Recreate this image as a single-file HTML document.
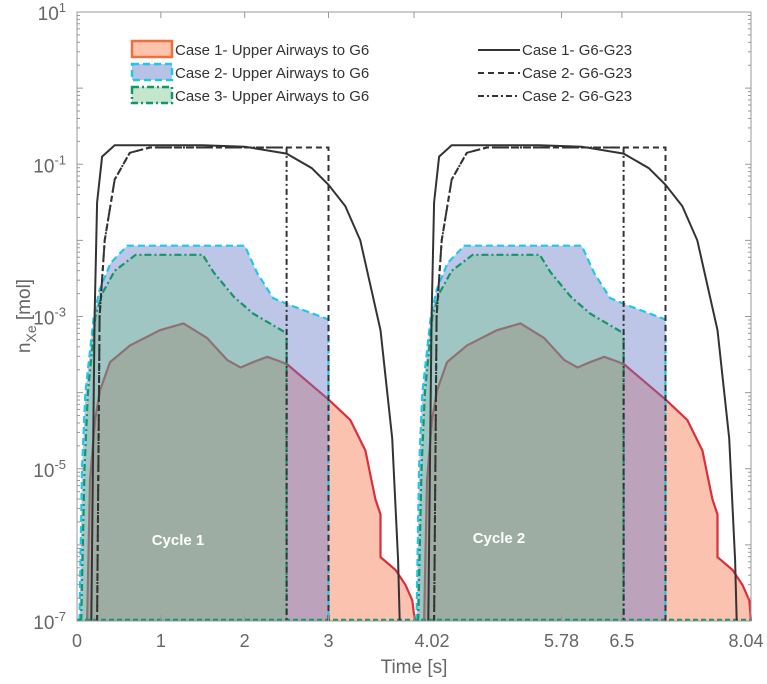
<!DOCTYPE html>
<html><head><meta charset="utf-8">
<style>
html,body{margin:0;padding:0;background:#fff;}
svg{display:block;font-family:"Liberation Sans",sans-serif;}
</style></head>
<body>
<svg id="chart" width="767" height="684" viewBox="0 0 767 684" xmlns="http://www.w3.org/2000/svg">
<g id="fills"></g>
<g id="lines"></g>
<g id="axes"></g>
<text x="178" y="545" fill="#fff" font-weight="bold" font-size="15" text-anchor="middle">Cycle 1</text>
<text x="499" y="543" fill="#fff" font-weight="bold" font-size="15" text-anchor="middle">Cycle 2</text>
<g id="legend">
  <g>
    <rect x="132" y="41" width="40" height="16" fill="#fcc3ad" stroke="#f0703c" stroke-width="2.5"/>
    <text x="175" y="55" font-size="15" fill="#333">Case 1- Upper Airways to G6</text>
  </g>
  <g>
    <rect x="132" y="64" width="40" height="16" fill="#b8c2e6" stroke="#1ec8e8" stroke-width="2.5" stroke-dasharray="7,4"/>
    <text x="175" y="78" font-size="15" fill="#333">Case 2- Upper Airways to G6</text>
  </g>
  <g>
    <rect x="132" y="87" width="40" height="16" fill="#c4e6cc" stroke="#14956a" stroke-width="2.5" stroke-dasharray="7,3,2,3"/>
    <text x="175" y="101" font-size="15" fill="#333">Case 3- Upper Airways to G6</text>
  </g>
  <g>
    <line x1="478" y1="50" x2="520" y2="50" stroke="#333" stroke-width="2"/>
    <text x="522" y="55" font-size="15" fill="#333">Case 1- G6-G23</text>
  </g>
  <g>
    <line x1="478" y1="73" x2="520" y2="73" stroke="#333" stroke-width="2" stroke-dasharray="6,4"/>
    <text x="522" y="78" font-size="15" fill="#333">Case 2- G6-G23</text>
  </g>
  <g>
    <line x1="478" y1="96" x2="520" y2="96" stroke="#333" stroke-width="2" stroke-dasharray="6,3,2,3"/>
    <text x="522" y="101" font-size="15" fill="#333">Case 2- G6-G23</text>
  </g>
</g>
</svg>
<script>
// ---- data (time in s, value as log10 of mol) for one breathing cycle ----
const cycleOffsets = [0, 4.02];
const case1Time = [0.12,0.155,0.215,0.275,0.394,0.633,0.99,1.27,1.55,1.79,1.95,2.10,2.27,2.42,2.51,3.01,3.26,3.44,3.56,3.62,3.62,3.80,3.92,4.0,4.03];
const case1Log  = [-7,-5.15,-4.36,-3.97,-3.6,-3.38,-3.18,-3.09,-3.28,-3.57,-3.67,-3.6,-3.53,-3.59,-3.63,-4.1,-4.36,-4.76,-5.4,-5.6,-6.16,-6.33,-6.53,-6.73,-7];
const case2Time = [0.03,0.06,0.1,0.2,0.27,0.4,0.6,2.0,2.15,2.34,2.54,3.0,3.0];
const case2Log  = [-7,-5,-4,-3,-2.65,-2.3,-2.07,-2.07,-2.43,-2.76,-2.85,-3.04,-7];
const case3Time = [0.05,0.09,0.13,0.22,0.3,0.45,0.7,1.5,1.63,1.87,2.1,2.5,2.5];
const case3Log  = [-7,-5,-4,-3,-2.7,-2.4,-2.19,-2.19,-2.42,-2.74,-2.96,-3.22,-7];
const g1Time = [0.17,0.19,0.21,0.24,0.3,0.45,1.5,2.0,2.5,2.8,3.0,3.2,3.38,3.62,3.76,3.83,3.85];
const g1Log  = [-7,-5,-3,-1.5,-0.9,-0.75,-0.75,-0.77,-0.86,-1.05,-1.27,-1.55,-2.0,-3.18,-4.6,-6.2,-7];
const g2Time = [0.24,0.27,0.33,0.45,0.63,0.87,3.0,3.0];
const g2Log  = [-7,-3,-2,-1.2,-0.85,-0.78,-0.78,-7];
const g3Time = [0.24,0.27,0.33,0.45,0.63,0.87,2.5,2.5];
const g3Log  = [-7,-3,-2,-1.2,-0.85,-0.78,-0.78,-7];
const xTicks = [0,1,2,3,4.02,5.78,6.5,8.04];
const xTickLabels = ["0","1","2","3","4.02","5.78","6.5","8.04"];
const yDecades = [1,0,-1,-2,-3,-4,-5,-6,-7];
const yLabelExps = [1,-1,-3,-5,-7];

// ---- axis functions ----
const X0=77, X1=751, Y0=12, Y1=621, TMAX=8.04, LMAX=1, LMIN=-7;
const xs = t => X0 + (Math.min(t,TMAX))/TMAX*(X1-X0);
const ys = l => Y0 + (LMAX-l)/(LMAX-LMIN)*(Y1-Y0);
const NS="http://www.w3.org/2000/svg";
function mk(tag, parent){const e=document.createElementNS(NS,tag);parent.appendChild(e);return e;}
function pathD(ts, ls, off, closed){
  let d="";
  ts.forEach((t,i)=>{d+=(i?"L":"M")+xs(t+off).toFixed(1)+","+ys(ls[i]).toFixed(1);});
  if(closed) d+="Z";
  return d;
}
const fills=document.getElementById('fills'), lines=document.getElementById('lines'), axes=document.getElementById('axes');

const areaSpecs=[
  {t:case1Time,l:case1Log,fill:"#f87850",op:0.45,stroke:"#d9303c",dash:"",name:"case1-area"},
  {t:case2Time,l:case2Log,fill:"rgb(100,118,200)",op:0.42,stroke:"#1ec8e8",dash:"7,4",name:"case2-area"},
  {t:case3Time,l:case3Log,fill:"rgb(90,200,110)",op:0.3,stroke:"#14956a",dash:"7,3,2,3",name:"case3-area"}
];
cycleOffsets.forEach((off,ci)=>{
  areaSpecs.forEach(s=>{
    const p=mk('path',fills);
    
    
    p.setAttribute('d', pathD(s.t,s.l,off,true));
    p.setAttribute('fill', s.fill);
    p.setAttribute('fill-opacity', s.op);
    p.setAttribute('stroke', 'none');
    const o=mk('path',fills);
    
    
    o.setAttribute('d', pathD(s.t,s.l,off,false));
    o.setAttribute('fill', 'none');
    o.setAttribute('stroke', s.stroke);
    o.setAttribute('stroke-width', '2.2');
    if(s.dash) o.setAttribute('stroke-dasharray', s.dash);
  });
});
const bl=mk('line',fills);


bl.setAttribute('x1',X0);bl.setAttribute('x2',X1);bl.setAttribute('y1',Y1-1);bl.setAttribute('y2',Y1-1);
bl.setAttribute('stroke','#14956a');bl.setAttribute('stroke-width','2.5');bl.setAttribute('stroke-dasharray','5,3');

const lineSpecs=[
  {t:g1Time,l:g1Log,dash:"",name:"case1-g6g23-line"},
  {t:g2Time,l:g2Log,dash:"6,4",name:"case2-g6g23-line"},
  {t:g3Time,l:g3Log,dash:"6,3,2,3",name:"case3-g6g23-line"}
];
cycleOffsets.forEach((off,ci)=>{
  lineSpecs.forEach(s=>{
    const p=mk('path',lines);
    
    
    p.setAttribute('d', pathD(s.t,s.l,off,false));
    p.setAttribute('fill','none');
    p.setAttribute('stroke','#333');
    p.setAttribute('stroke-width','2');
    if(s.dash) p.setAttribute('stroke-dasharray', s.dash);
  });
});

// ---- axes ----
const frame=mk('rect',axes);


frame.setAttribute('x',X0);frame.setAttribute('y',Y0);frame.setAttribute('width',X1-X0);frame.setAttribute('height',Y1-Y0);
frame.setAttribute('fill','none');frame.setAttribute('stroke','#999');frame.setAttribute('stroke-width','1');

xTicks.forEach((t,i)=>{
  const x=xs(t);
  [[Y1,Y1-6],[Y0,Y0+6]].forEach(([a,b])=>{
    const l=mk('line',axes);
    
    
    l.setAttribute('x1',x);l.setAttribute('x2',x);l.setAttribute('y1',a);l.setAttribute('y2',b);
    l.setAttribute('stroke','#999');
  });
  const tx=mk('text',axes);
  
  
  tx.setAttribute('x', x + (t===4.02?18:(t===8.04?-5:0)));
  tx.setAttribute('y', 647);
  tx.setAttribute('text-anchor','middle');
  tx.setAttribute('font-size','18');
  tx.setAttribute('fill','#666');
  tx.textContent=xTickLabels[i];
});
yDecades.forEach(d=>{
  [[X0,X0+6],[X1,X1-6]].forEach(([a,b])=>{
    const l=mk('line',axes);
    
    
    l.setAttribute('x1',a);l.setAttribute('x2',b);l.setAttribute('y1',ys(d));l.setAttribute('y2',ys(d));
    l.setAttribute('stroke','#999');
  });
  if(d>LMIN){
    for(let m=2;m<=9;m++){
      const y=ys(d-1+Math.log10(m));
      [[X0,X0+3],[X1,X1-3]].forEach(([a,b])=>{
        const l=mk('line',axes);
        
        
        l.setAttribute('x1',a);l.setAttribute('x2',b);l.setAttribute('y1',y);l.setAttribute('y2',y);
        l.setAttribute('stroke','#999');
      });
    }
  }
});
yLabelExps.forEach(e=>{
  const tx=mk('text',axes);
  
  
  tx.setAttribute('x', 66);
  tx.setAttribute('y', ys(e)+8);
  tx.setAttribute('text-anchor','end');
  tx.setAttribute('font-size','19');
  tx.setAttribute('fill','#666');
  const base=mk('tspan',tx); base.textContent='10';
  const sup=mk('tspan',tx); sup.setAttribute('dy','-8'); sup.setAttribute('font-size','13'); sup.textContent=String(e);
});
const xt=mk('text',axes);


xt.setAttribute('x',414);xt.setAttribute('y',673);xt.setAttribute('text-anchor','middle');
xt.setAttribute('font-size','19');xt.setAttribute('fill','#666');xt.textContent='Time [s]';
const yt=mk('text',axes);


yt.setAttribute('transform','translate(30,316) rotate(-90)');
yt.setAttribute('text-anchor','middle');yt.setAttribute('font-size','19');yt.setAttribute('fill','#666');
const t1=mk('tspan',yt); t1.textContent='n';
const t2=mk('tspan',yt); t2.setAttribute('dy','6'); t2.setAttribute('font-size','14'); t2.textContent='Xe';
const t3=mk('tspan',yt); t3.setAttribute('dy','-6'); t3.textContent=' [mol]';
</script>
</body></html>
